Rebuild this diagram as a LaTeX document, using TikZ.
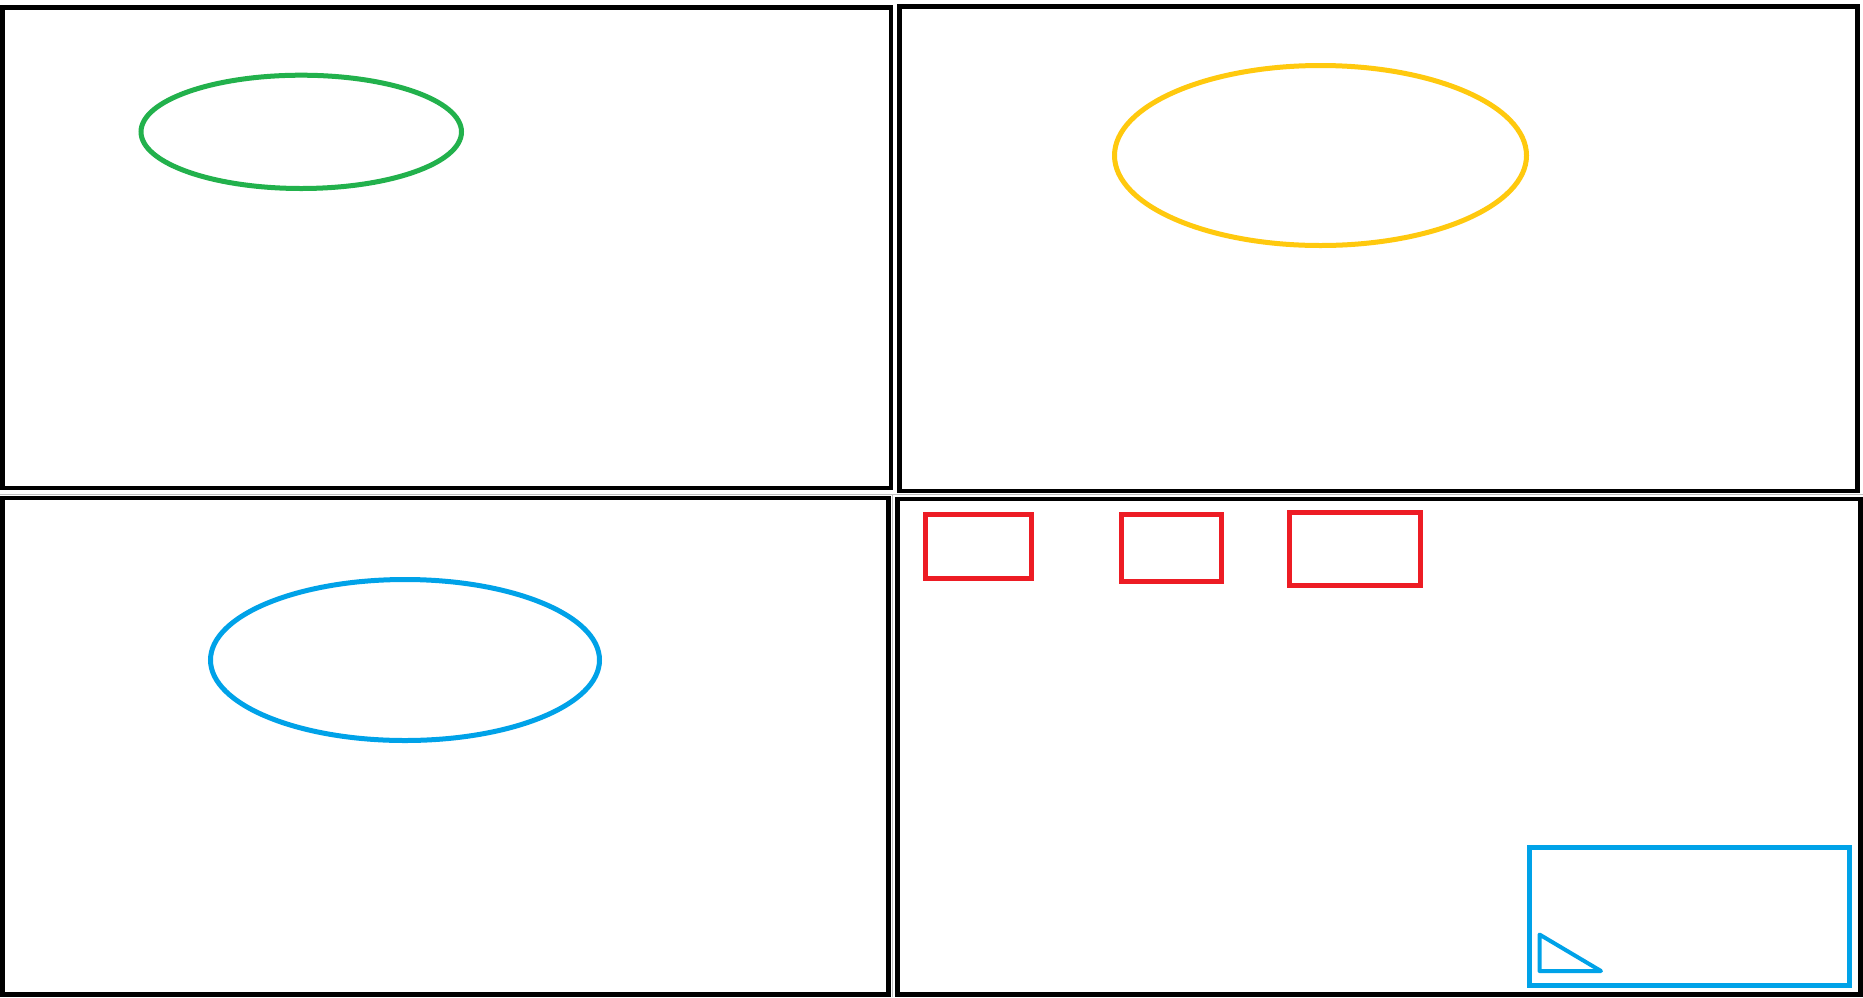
\documentclass[tikz,border=0pt]{standalone}
\begin{document}
\begin{tikzpicture}[x=1pt,y=-1pt,
  panel/.style={draw=black,line width=4.8pt},
  sep/.style={draw=black!25,line width=1.5pt},
  shapeline/.style={line width=5pt},
  boxline/.style={line width=4.9pt},
  triline/.style={line width=4pt,line join=round,line cap=round}]
\definecolor{pgreen}{HTML}{22B14C}
\definecolor{pyellow}{HTML}{FFC90E}
\definecolor{pblue}{HTML}{00A2E8}
\definecolor{pred}{HTML}{ED1C24}
\fill[white] (0,0) rectangle (1863,997);
\useasboundingbox (0,0) rectangle (1863,997);
% faint separators
\draw[sep] (0,494.5) -- (1863,494.5);
\draw[sep] (892.5,494.5) -- (892.5,997);
% panels
\draw[panel] (2.4,7.4) rectangle (891,488);
\draw[panel] (899.5,6.8) rectangle (1857.5,491);
\draw[panel] (2.4,498) rectangle (888.5,994.6);
\draw[panel] (897.5,499) rectangle (1860.6,994.6);
% ellipses
\draw[shapeline,pgreen] (301.25,131.85) ellipse [x radius=160.25,y radius=56.65];
\draw[shapeline,pyellow] (1320.5,155.5) ellipse [x radius=206,y radius=90];
\draw[shapeline,pblue] (405,660) ellipse [x radius=194.5,y radius=80.5];
% red boxes
\draw[boxline,pred] (925.4,514.4) rectangle (1031.6,578.6);
\draw[boxline,pred] (1121.4,514.4) rectangle (1221.6,581.6);
\draw[boxline,pred] (1289.4,512.4) rectangle (1420.6,585.6);
% blue box and triangle
\draw[boxline,pblue] (1529.4,847.4) rectangle (1849.6,985.6);
\draw[triline,pblue] (1539.5,934.5) -- (1539.5,971) -- (1601,971) -- cycle;
\end{tikzpicture}
\end{document}
